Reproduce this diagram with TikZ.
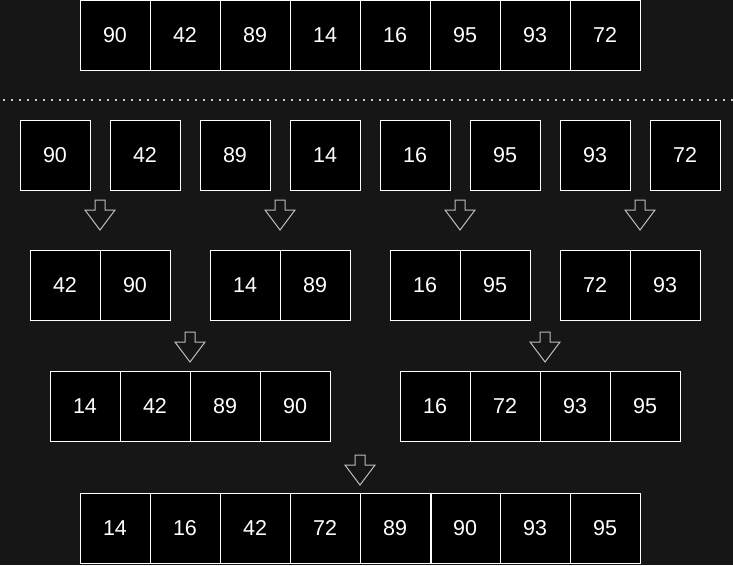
\documentclass[tikz,border=0pt]{standalone}
\usepackage{fontspec}
\setmainfont{Liberation Sans}
\definecolor{bgc}{HTML}{161616}
\definecolor{arrc}{HTML}{BBBBBB}
\definecolor{dotc}{HTML}{CCCCCC}
\begin{document}
\begin{tikzpicture}[x=1pt,y=-1pt,
  cell/.style={draw=white,fill=black,line width=1pt,minimum size=70pt,inner sep=0pt,
    text=white,font=\fontsize{21.5}{24}\selectfont},
  downarr/.pic={\draw[arrc,line width=1pt,line join=miter]
     (-5,0) -- (5,0) -- (5,10) -- (15,10) -- (0,30) -- (-15,10) -- (-5,10) -- cycle;}
]
\fill[bgc] (0,0) rectangle (733,565);
\useasboundingbox (0,0) rectangle (733,565);
% top row
\foreach \v [count=\i] in {90,42,89,14,16,95,93,72}
  \node[cell] (t\i) at ({45+70*\i},35) {\v};
% dotted separator
\coordinate (sepL) at (0,100);
\coordinate (sepR) at (733,100);
\draw[dotc,line width=1.6pt,dash pattern=on 1.6pt off 6.4pt,dash phase=-3pt] (sepL) -- (sepR);
% split row
\foreach \v/\x [count=\i] in {90/55,42/145,89/235,14/325,16/415,95/505,93/595,72/685}
  \node[cell] (s\i) at (\x,155) {\v};
% arrows level 1
\foreach \x in {100,280,460,640}
  \pic at (\x,200) {downarr};
% pairs
\node[cell] (p1a) at (65,285) {42};
\node[cell] (p1b) at (135,285) {90};
\node[cell] (p2a) at (245,285) {14};
\node[cell] (p2b) at (315,285) {89};
\node[cell] (p3a) at (425,285) {16};
\node[cell] (p3b) at (495,285) {95};
\node[cell] (p4a) at (595,285) {72};
\node[cell] (p4b) at (665,285) {93};
% arrows level 2
\pic at (190,332) {downarr};
\pic at (545,332) {downarr};
% quads
\foreach \v [count=\i] in {14,42,89,90}
  \node[cell] (q1\i) at ({15+70*\i},406) {\v};
\foreach \v [count=\i] in {16,72,93,95}
  \node[cell] (q2\i) at ({365+70*\i},406) {\v};
% arrow level 3
\pic at (360,455) {downarr};
% final row
\foreach \v [count=\i] in {14,16,42,72,89,90,93,95}
  \node[cell] (f\i) at ({45+70*\i},528) {\v};
\draw[white,line width=2pt] (f5.north east) -- (f5.south east);
\end{tikzpicture}
\end{document}
